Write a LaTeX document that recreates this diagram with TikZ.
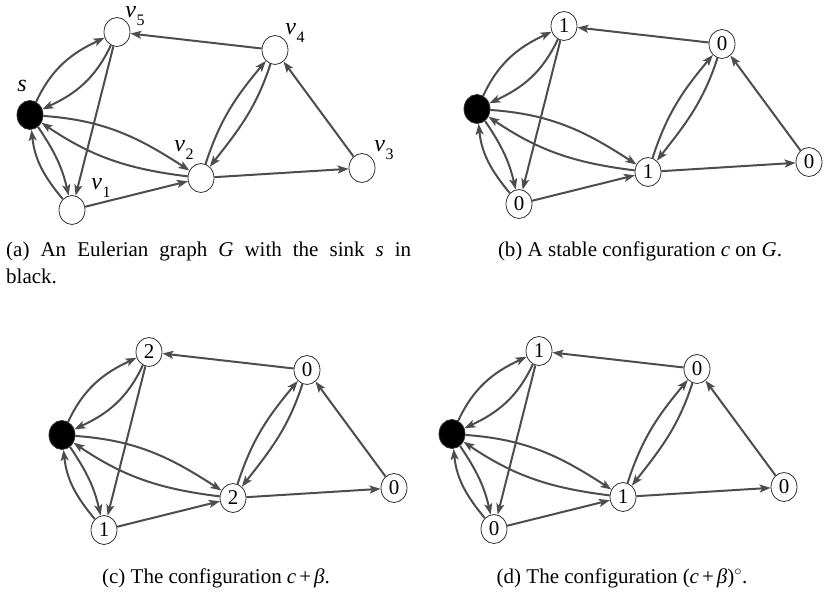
\documentclass[tikz,border=0pt]{standalone}
\usepackage{fontspec}
\setmainfont{Liberation Serif}
\usetikzlibrary{arrows.meta,shapes.geometric}
\definecolor{edgegray}{HTML}{4D4D4D}
\definecolor{nodegray}{HTML}{333333}
\tikzset{
  vtx/.style={ellipse, draw=nodegray, line width=0.8pt, fill=white, minimum width=26pt, minimum height=29pt, inner sep=0pt, font=\fontsize{21}{21}\selectfont},
  sink/.style={vtx, fill=black},
  edge/.style={draw=edgegray, line width=2pt, -{Stealth[length=11pt,width=8pt,inset=2.5pt]}},
  vname/.style={inner sep=0pt, font=\fontsize{24}{24}\selectfont},
  capt/.style={inner sep=0pt, font=\fontsize{21}{25}\selectfont},
}
\newcommand{\vlab}[1]{\textit{v}\kern0.5pt\raisebox{-0.3em}{\fontsize{16}{16}\selectfont #1}}
\newcommand{\sandgraph}[6]{%
  \node[sink] (#1s) at (30,-115) {};
  \node[vtx] (#1v5) at (117,-32) {#2};
  \node[vtx] (#1v4) at (275,-50) {#3};
  \node[vtx] (#1v2) at (201,-178) {#4};
  \node[vtx] (#1v3) at (362,-168) {#5};
  \node[vtx] (#1v1) at (72,-210) {#6};
  \draw[edge] (#1s) to[out=65,in=205] (#1v5);
  \draw[edge] (#1v5) to[out=245,in=25] (#1s);
  \draw[edge] (#1v5) -- (#1v1);
  \draw[edge] (#1v4) -- (#1v5);
  \draw[edge] (#1s) to[out=-4,in=147] (#1v2);
  \draw[edge] (#1v2) to[out=173,in=-34] (#1s);
  \draw[edge] (#1s) to[out=-56,in=103] (#1v1);
  \draw[edge] (#1v1) to[out=130,in=-84] (#1s);
  \draw[edge] (#1v1) -- (#1v2);
  \draw[edge] (#1v2) -- (#1v3);
  \draw[edge] (#1v3) -- (#1v4);
  \draw[edge] (#1v2) to[out=72,in=230] (#1v4);
  \draw[edge] (#1v4) to[out=252,in=52] (#1v2);
}
\begin{document}
\begin{tikzpicture}[x=1pt,y=1pt]
\useasboundingbox (0,0) rectangle (824,-592);
% (a)
\begin{scope}
  \sandgraph{a}{}{}{}{}{}
  \node[vname] (ls) at (22,-86) {\textit{s}};
  \node[vname] (l5) at (135,-16) {\vlab{5}};
  \node[vname] (l4) at (295,-33) {\vlab{4}};
  \node[vname] (l2) at (184,-150) {\vlab{2}};
  \node[vname] (l3) at (384,-150) {\vlab{3}};
  \node[vname] (l1) at (101,-188) {\vlab{1}};
\end{scope}
% (b)
\begin{scope}[shift={(447,6)}]
  \sandgraph{b}{1}{0}{1}{0}{0}
\end{scope}
% (c)
\begin{scope}[shift={(32,-320)}]
  \sandgraph{c}{2}{0}{2}{0}{1}
\end{scope}
% (d)
\begin{scope}[shift={(422,-319)}]
  \sandgraph{d}{1}{0}{1}{0}{0}
\end{scope}
% captions
\node[capt, anchor=base west] (capa1) at (6,-256) {\makebox[405pt][s]{(a) An Eulerian graph \textit{G} with the sink \textit{s} in}};
\node[capt, anchor=base west] (capa2) at (6,-283) {black.};
\node[capt, anchor=base] (capb) at (640,-256) {(b) A stable configuration \textit{c} on \textit{G}.};
\node[capt, anchor=base] (capc) at (216,-583) {(c) The configuration \textit{c}\kern3pt+\kern3pt\textit{β}.};
\node[capt, anchor=base] (capd) at (622,-583) {(d) The configuration (\textit{c}\kern3pt+\kern3pt\textit{β})$^\circ$.};
\end{tikzpicture}
\end{document}
